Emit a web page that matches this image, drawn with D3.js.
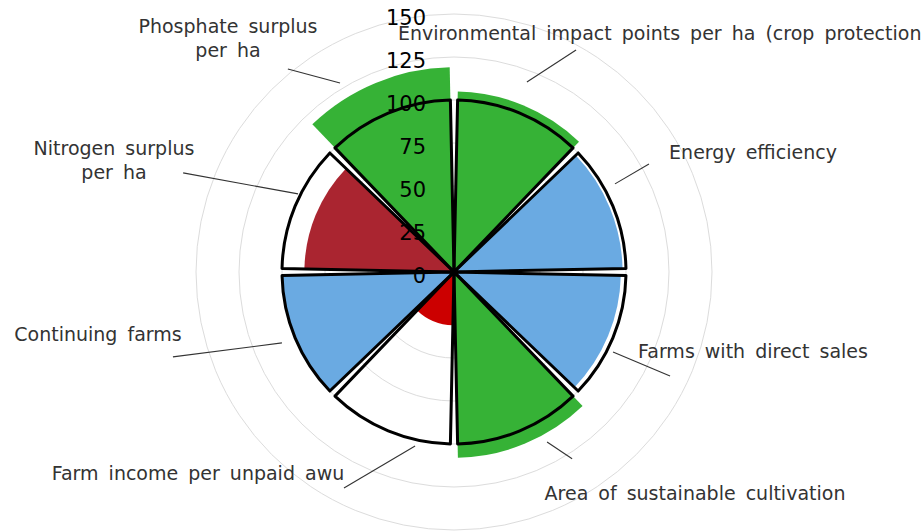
<!DOCTYPE html>
<html>
<head>
<meta charset="utf-8">
<script src="https://cdn.jsdelivr.net/npm/d3@7"></script>
<style>
  html, body { margin: 0; padding: 0; background: #fff; overflow: hidden; }
  svg { display: block; }
</style>
</head>
<body>
<svg id="chart" width="922" height="532"></svg>
<script>
// Indicator names, clockwise from 12 o'clock
const categories = [
  "Environmental impact points per ha (crop protection)",
  "Energy efficiency",
  "Farms with direct sales",
  "Area of sustainable cultivation",
  "Farm income per unpaid awu",
  "Continuing farms",
  "Nitrogen surplus per ha",
  "Phosphate surplus per ha"
];
// Index values (reference = 100)
const values = [105, 98, 97, 108, 31, 100, 87, 119];
const referenceValues = [100, 100, 100, 100, 100, 100, 100, 100];
// Assessment class of each indicator
const classes = ["good", "neutral", "neutral", "good", "bad", "neutral", "warn", "good"];
const tickValues = [0, 25, 50, 75, 100, 125, 150];
const gridValues = [25, 50, 75, 100, 125, 150];

const classColor = {
  good: "#36b236",
  neutral: "#6aaae2",
  warn: "#aa2530",
  bad: "#cc0000"
};

// Label text lines and their placement
const labelLines = [
  ["Environmental impact points per ha (crop protection)"],
  ["Energy efficiency"],
  ["Farms with direct sales"],
  ["Area of sustainable cultivation"],
  ["Farm income per unpaid awu"],
  ["Continuing farms"],
  ["Nitrogen surplus", "per ha"],
  ["Phosphate surplus", "per ha"]
];
const labelPos = [
  { x: 398, y: 39.5, anchor: "start" },
  { x: 753, y: 159, anchor: "middle" },
  { x: 753, y: 358, anchor: "middle" },
  { x: 695, y: 500, anchor: "middle" },
  { x: 198, y: 480, anchor: "middle" },
  { x: 98, y: 340.5, anchor: "middle" },
  { x: 114, y: 155, anchor: "middle" },
  { x: 228, y: 33.3, anchor: "middle" }
];
// Leader lines in polar form: [angle in degrees, radius in index units] for both ends
const leaders = [
  [[21.0, 118.3], [28.8, 147.3]],
  [[61.3, 106.7], [61.0, 129.6]],
  [[116.7, 103.5], [115.7, 139.4]],
  [[151.3, 112.7], [147.7, 128.5]],
  [[192.6, 103.7], [207.0, 140.9]],
  [[247.6, 108.2], [253.2, 170.7]],
  [[296.6, 101.4], [290.1, 167.7]],
  [[328.9, 128.3], [320.7, 152.5]]
];

const cx = 454, cy = 272;
const svg = d3.select("#chart");
const g = svg.append("g").attr("transform", `translate(${cx},${cy})`);

const r = d3.scaleLinear().domain([0, 150]).range([0, 258]);
const step = 2 * Math.PI / categories.length;

const polar = (deg, v) => {
  const a = deg * Math.PI / 180;
  return [r(v) * Math.sin(a), -r(v) * Math.cos(a)];
};

// Grid circles
g.append("g").selectAll("circle")
  .data(gridValues)
  .join("circle")
  .attr("r", d => r(d))
  .attr("fill", "none")
  .attr("stroke", "#dcdcdc")
  .attr("stroke-width", 1);

const arc = d3.arc()
  .innerRadius(0)
  .padAngle(0.042);

// Value sectors
g.append("g").selectAll("path")
  .data(values)
  .join("path")
  .attr("d", (d, i) => arc({ outerRadius: r(d), startAngle: i * step, endAngle: (i + 1) * step }))
  .attr("fill", (d, i) => classColor[classes[i]]);

// Reference outlines
g.append("g").selectAll("path")
  .data(referenceValues)
  .join("path")
  .attr("d", (d, i) => arc({ outerRadius: r(d), startAngle: i * step, endAngle: (i + 1) * step }))
  .attr("fill", "none")
  .attr("stroke", "#000")
  .attr("stroke-width", 3)
  .attr("stroke-linejoin", "round");

// Radial tick labels
g.append("g").selectAll("text")
  .data(tickValues)
  .join("text")
  .attr("x", -28)
  .attr("y", d => -r(d) + 11)
  .attr("text-anchor", "end")
  .attr("font-family", "DejaVu Sans, Verdana, sans-serif")
  .attr("font-size", 21)
  .attr("fill", "#000")
  .text(d => d);

// Leader lines
g.append("g").selectAll("line")
  .data(leaders)
  .join("line")
  .attr("x1", d => polar(...d[0])[0])
  .attr("y1", d => polar(...d[0])[1])
  .attr("x2", d => polar(...d[1])[0])
  .attr("y2", d => polar(...d[1])[1])
  .attr("stroke", "#333")
  .attr("stroke-width", 1.1);

// Indicator labels
const labels = svg.append("g")
  .attr("font-family", "DejaVu Sans, Verdana, sans-serif")
  .attr("font-size", 19)
  .attr("fill", "#333")
  .attr("word-spacing", 4);

labelLines.forEach((lines, i) => {
  const p = labelPos[i];
  const t = labels.append("text")
    .attr("x", p.x)
    .attr("y", p.y)
    .attr("text-anchor", p.anchor);
  lines.forEach((line, j) => {
    t.append("tspan")
      .attr("x", p.x)
      .attr("dy", j === 0 ? 0 : 24)
      .text(line);
  });
});
</script>
</body>
</html>
